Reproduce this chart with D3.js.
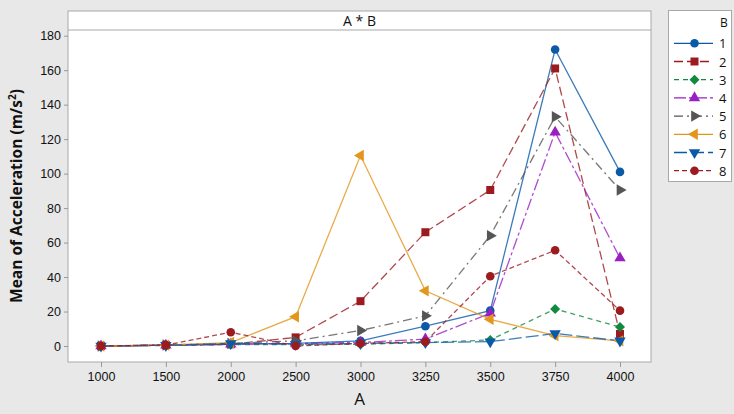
<!DOCTYPE html>
<html><head><meta charset="utf-8">
<script src="https://cdn.jsdelivr.net/npm/d3@7"></script>
<style>body{margin:0;background:#e8e8e8;}svg{display:block;font-family:"Open Sans","Noto Sans",sans-serif;}</style>
</head><body><svg id="c" width="734" height="414"></svg>
<script>
const categories = ["1000","1500","2000","2500","3000","3250","3500","3750","4000"];
const seriesNames = ["1","2","3","4","5","6","7","8"];
const s1 = [0, 0.5, 1, 1.5, 3, 11.5, 20.5, 172, 101];
const s2 = [0, 0.5, 1, 5, 26, 66, 90.5, 161, 7];
const s3 = [0, 0.3, 0.8, 0.8, 1, 2, 3.5, 21.5, 11];
const s4 = [0, 0.4, 1, 1.5, 2, 4, 19, 124, 51];
const s5 = [0, 0.6, 1.5, 3, 9, 17.5, 64, 133, 90.5];
const s6 = [0, 0.5, 2, 17, 110.5, 32, 15.5, 6, 3];
const s7 = [0, 0.4, 1.5, 1, 1.5, 2, 2.5, 7.3, 3];
const s8 = [0, 0.5, 8, 0, 1.5, 2.5, 40.5, 55.5, 20.5];
const allSeries = [s1, s2, s3, s4, s5, s6, s7, s8];
const yTicks = [0, 20, 40, 60, 80, 100, 120, 140, 160, 180];

const colors = ["#0a5aa8","#9c1b1f","#11893f","#9a1fc3","#555555","#e3961c","#0a5aa8","#9c1b1f"];
const dashes = [null,"9,4","5,4","12,3,3,3","9,4,2,4",null,"13,4","5,3"];
const symbols = ["circle","square","diamond","up","right","left","down","circle"];

const svg = d3.select("#c");
const L = 68, R = 651, T = 30, B = 362;
svg.append("rect").attr("x", L).attr("y", 11).attr("width", R - L).attr("height", B - 11).attr("fill", "#fff").attr("stroke", "#a8a8a8");
svg.append("line").attr("x1", L).attr("x2", R).attr("y1", T).attr("y2", T).attr("stroke", "#a8a8a8");
svg.append("text").attr("x", (L + R) / 2).attr("y", 26).attr("text-anchor", "middle").attr("font-size", 14).attr("fill", "#111").text("A * B");

const x = d3.scalePoint().domain(categories).range([101, 620]);
const y = d3.scaleLinear().domain([0, 180]).range([346, 35.7]);

const yAxis = svg.append("g").attr("transform", `translate(${L},0)`)
  .call(d3.axisLeft(y).tickValues(yTicks).tickSize(4).tickPadding(3));
const xAxis = svg.append("g").attr("transform", `translate(0,${B})`)
  .call(d3.axisBottom(x).tickSize(5).tickPadding(5));
[yAxis, xAxis].forEach(g => {
  g.select(".domain").remove();
  g.selectAll("line").attr("stroke", "#999");
  g.selectAll("text").attr("font-size", 12.5).attr("fill", "#111");
});

function sym(kind) {
  if (kind === "circle") return d3.symbol().type(d3.symbolCircle).size(58)();
  if (kind === "square") return d3.symbol().type(d3.symbolSquare).size(64)();
  if (kind === "diamond") return d3.symbol().type(d3.symbolSquare).size(50)();
  return d3.symbol().type(d3.symbolTriangle).size(56)();
}
function rot(kind) { return {right: 90, left: -90, down: 180, diamond: 45}[kind] || 0; }

const line = d3.line().x((d, i) => x(categories[i])).y(d => y(d));
const plot = svg.append("g");
allSeries.forEach((s, k) => {
  plot.append("path").datum(s).attr("d", line).attr("fill", "none")
    .attr("stroke", colors[k]).attr("stroke-width", 1.3).attr("stroke-opacity", 0.8)
    .attr("stroke-dasharray", dashes[k]);
});
allSeries.forEach((s, k) => {
  plot.selectAll(null).data(s).enter().append("path")
    .attr("d", sym(symbols[k]))
    .attr("transform", (d, i) => `translate(${x(categories[i])},${y(d)}) rotate(${rot(symbols[k])})`)
    .attr("fill", colors[k]);
});

svg.append("text").attr("x", (L + R) / 2).attr("y", 405).attr("text-anchor", "middle").attr("font-size", 17).attr("fill", "#111").text("A");
const yt = svg.append("text").attr("transform", `translate(22,${(T + B) / 2}) rotate(-90)`).attr("text-anchor", "middle").attr("font-size", 15.5).attr("font-weight", "bold").attr("fill", "#111");
yt.append("tspan").text("Mean of Acceleration (m/s");
yt.append("tspan").attr("dy", -6).attr("font-size", 10).text("2");
yt.append("tspan").attr("dy", 6).text(")");

const lg = svg.append("g");
lg.append("rect").attr("x", 668.5).attr("y", 10.5).attr("width", 63).attr("height", 171).attr("fill", "#fff").attr("stroke", "#a8a8a8");
lg.append("text").attr("x", 720).attr("y", 27).attr("font-size", 12).attr("fill", "#111").text("B");
seriesNames.forEach((n, k) => {
  const yy = 43.3 + k * 18.2;
  lg.append("line").attr("x1", 674).attr("x2", 713).attr("y1", yy).attr("y2", yy)
    .attr("stroke", colors[k]).attr("stroke-width", 1.3).attr("stroke-dasharray", dashes[k]);
  lg.append("path").attr("d", sym(symbols[k]))
    .attr("transform", `translate(694.5,${yy}) rotate(${rot(symbols[k])})`).attr("fill", colors[k]);
  lg.append("text").attr("x", 719).attr("y", yy + 5).attr("font-size", 13).attr("fill", "#111").text(n);
});
</script></body></html>
